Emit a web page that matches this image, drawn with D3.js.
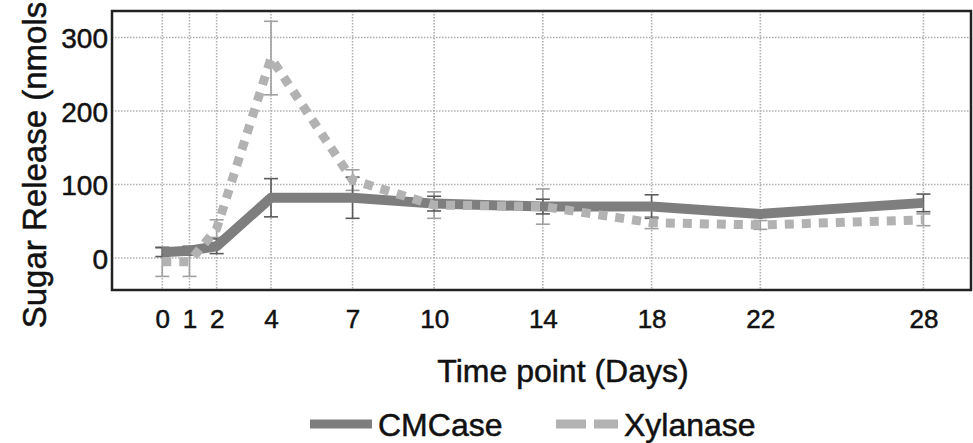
<!DOCTYPE html>
<html>
<head>
<meta charset="utf-8">
<script src="https://cdn.jsdelivr.net/npm/d3@7"></script>
<style>
  body { margin: 0; background: #fff; }
  svg { display: block; font-family: "Liberation Sans", Arial, sans-serif; }
  text { stroke: #111; stroke-width: 0.5px; }
</style>
</head>
<body>
<svg id="chart" width="973" height="443"></svg>
<script>
// time points (days) and measured sugar release
var days = [0, 1, 2, 4, 7, 10, 14, 18, 22, 28];
var cmcase = [8, 10, 16, 82, 82, 74, 70, 70, 60, 75];
var cmcaseErr = [6, 6, 10, 26, 28, 10, 10, 16, 4, 12];
var xylanase = [-5, -5, 40, 272, 106, 72, 70, 48, 45, 52];
var xylanaseErr = [20, 20, 12, 50, 14, 18, 24, 8, 6, 8];
var yTicks = [0, 100, 200, 300];

var svg = d3.select('#chart');
var box = { left: 112, right: 971, top: 11, bottom: 290 };

var x = d3.scaleLinear().domain([-1.85, 29.75]).range([box.left, box.right]);
var y = d3.scaleLinear().domain([-43.5, 336]).range([box.bottom, box.top]);

// grid
var grid = svg.append('g').attr('stroke', '#b0b0b0').attr('stroke-width', 1.6)
  .attr('stroke-dasharray', '1.5,1.5');
grid.selectAll('line.gx').data(days).enter().append('line')
  .attr('x1', function (d) { return x(d); }).attr('x2', function (d) { return x(d); })
  .attr('y1', box.top).attr('y2', box.bottom);
grid.selectAll('line.gy').data(yTicks).enter().append('line')
  .attr('y1', function (d) { return y(d); }).attr('y2', function (d) { return y(d); })
  .attr('x1', box.left).attr('x2', box.right);

// error bars
function errorBars(vals, errs, color) {
  var g = svg.append('g').attr('stroke', color).attr('stroke-width', 1.6).attr('fill', 'none');
  days.forEach(function (d, i) {
    var cx = x(d), hi = y(vals[i] + errs[i]), lo = y(vals[i] - errs[i]);
    g.append('line').attr('x1', cx).attr('x2', cx).attr('y1', hi).attr('y2', lo);
    g.append('line').attr('x1', cx - 7).attr('x2', cx + 7).attr('y1', hi).attr('y2', hi);
    g.append('line').attr('x1', cx - 7).attr('x2', cx + 7).attr('y1', lo).attr('y2', lo);
  });
}
errorBars(xylanase, xylanaseErr, '#a0a0a0');
errorBars(cmcase, cmcaseErr, '#5a5a5a');

// lines
function line(vals) {
  return d3.line().x(function (d, i) { return x(days[i]); }).y(function (d) { return y(d); })(vals);
}
svg.append('path').attr('d', line(cmcase)).attr('fill', 'none')
  .attr('stroke', '#7e7e7e').attr('stroke-width', 10).attr('stroke-linejoin', 'round');
svg.append('path').attr('d', line(xylanase)).attr('fill', 'none')
  .attr('stroke', '#b2b2b2').attr('stroke-width', 9).attr('stroke-dasharray', '9,8');

// frame
svg.append('rect').attr('x', box.left).attr('y', box.top)
  .attr('width', box.right - box.left).attr('height', box.bottom - box.top)
  .attr('fill', 'none').attr('stroke', '#222').attr('stroke-width', 2.5);

// axes (labels only, no tick marks)
var xAxis = svg.append('g').attr('transform', 'translate(0,' + (box.bottom + 38) + ')')
  .call(d3.axisBottom(x).tickValues(days).tickSize(0).tickPadding(0));
xAxis.select('.domain').remove();
xAxis.selectAll('text').attr('font-size', 26).attr('fill', '#111')
  .attr('font-family', '"Liberation Sans", Arial, sans-serif').attr('dy', 0);

var yAxis = svg.append('g').attr('transform', 'translate(' + (box.left - 4) + ',0)')
  .call(d3.axisLeft(y).tickValues(yTicks).tickSize(0).tickPadding(0));
yAxis.select('.domain').remove();
yAxis.selectAll('text').attr('font-size', 28).attr('fill', '#111')
  .attr('font-family', '"Liberation Sans", Arial, sans-serif').attr('dy', '0.36em');

svg.append('text').attr('x', 563).attr('y', 382).attr('text-anchor', 'middle')
  .attr('font-size', 32).attr('fill', '#111').text('Time point (Days)');

svg.append('text').attr('transform', 'translate(46,165) rotate(-90)')
  .attr('text-anchor', 'middle').attr('font-size', 33).attr('fill', '#111')
  .text('Sugar Release (nmols');

// legend
var legend = [
  { name: 'CMCase', color: '#7e7e7e', dash: null, x: 310 },
  { name: 'Xylanase', color: '#b2b2b2', dash: '30,8', x: 556 }
];
legend.forEach(function (l) {
  svg.append('line').attr('x1', l.x).attr('x2', l.x + 62).attr('y1', 424).attr('y2', 424)
    .attr('stroke', l.color).attr('stroke-width', 9).attr('stroke-dasharray', l.dash);
  svg.append('text').attr('x', l.x + 68).attr('y', 436).attr('font-size', 32)
    .attr('fill', '#111').text(l.name);
});
</script>
</body>
</html>
